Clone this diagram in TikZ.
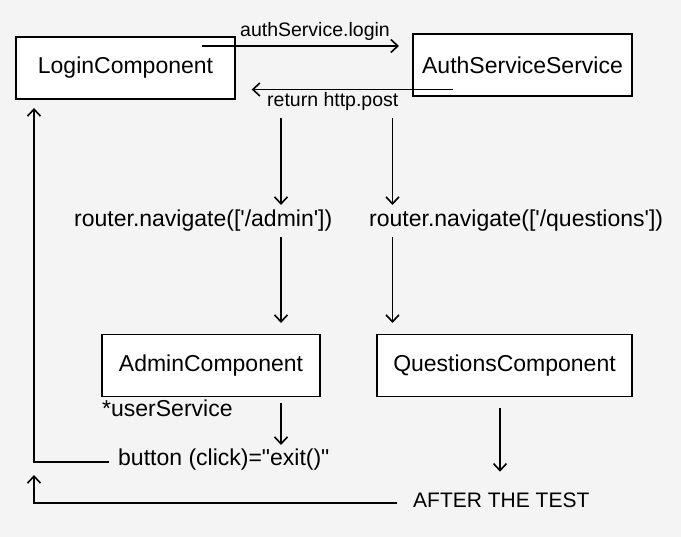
\documentclass[tikz,border=0pt]{standalone}
\usepackage{fontspec}
\setmainfont{Liberation Sans}
\usetikzlibrary{arrows.meta}
\definecolor{bgGray}{HTML}{F4F4F4}
\begin{document}
\begin{tikzpicture}[x=1pt,y=-1pt,
    comp/.style={draw,line width=1.8pt,fill=white,minimum height=62pt,inner sep=0pt,font=\fontsize{23}{27}\selectfont},
    lbl/.style={inner sep=0pt,anchor=base west,font=\fontsize{23}{27}\selectfont},
    slbl/.style={inner sep=0pt,anchor=base west,font=\fontsize{19.5}{23}\selectfont},
    flow/.style={->,>={Straight Barb[length=7pt,width=13pt]},line width=1.6pt}]
  \fill[bgGray] (0,0) rectangle (681,537); %背景
  \node[comp,minimum width=219pt] (login) at (125.5,68) {LoginComponent\hspace{10pt}};
  \node[comp,minimum width=219pt] (auth) at (522.5,65) {AuthServiceService};
  \node[comp,minimum width=218pt] (admin) at (211,365.5) {AdminComponent};
  \node[comp,minimum width=255pt] (questions) at (504.5,365.5) {QuestionsComponent};
  \node[slbl] (loginLbl) at (240,36.7) {authService.login};
  \node[slbl] (returnLbl) at (267,107) {return http.post};
  \node[lbl] (navAdmin) at (74,226.7) {router.navigate([\textquotesingle/admin\textquotesingle])};
  \node[lbl] (navQuest) at (369,226.7) {router.navigate([\textquotesingle/questions\textquotesingle])};
  \node[lbl] (userSvc) at (102,416.7) {*userService};
  \node[lbl] (exitBtn) at (118,466) {button (click)=\textquotedbl exit()\textquotedbl};
  \node[lbl,font=\fontsize{21}{25}\selectfont] (afterTest) at (413,508) {AFTER THE TEST};
  % 矢印の端点
  \coordinate (loginOut) at (202,46); \coordinate (authIn) at (399,46);
  \coordinate (authOut) at (453,89.5); \coordinate (loginIn) at (251.7,89.5);
  \coordinate (admTop) at (281,118); \coordinate (admNav) at (281,205);
  \coordinate (admNavOut) at (281,236.7); \coordinate (admIn) at (281,323);
  \coordinate (qstTop) at (392.5,118); \coordinate (qstNav) at (392.5,205);
  \coordinate (qstNavOut) at (392.5,236.7); \coordinate (qstIn) at (392.5,323);
  \coordinate (admOut) at (281,403); \coordinate (exitIn) at (281,445);
  \coordinate (qstOut) at (500,408); \coordinate (afterIn) at (500,471.7);
  \coordinate (exitOut) at (109,462.3); \coordinate (loginBack) at (34,108);
  \coordinate (afterOut) at (397,503); \coordinate (exitBack) at (34,475);
  \draw[flow] (loginOut)--(authIn); %login
  \draw[flow] (authOut)--(loginIn); %return
  \draw[flow] (admTop)--(admNav);
  \draw[flow] (admNavOut)--(admIn);
  \draw[flow] (qstTop)--(qstNav);
  \draw[flow] (qstNavOut)--(qstIn);
  \draw[flow] (admOut)--(exitIn);
  \draw[flow] (qstOut)--(afterIn);
  \draw[flow] (exitOut)-|(loginBack); %戻り
  \draw[flow] (afterOut)-|(exitBack);
\end{tikzpicture}
\end{document}
